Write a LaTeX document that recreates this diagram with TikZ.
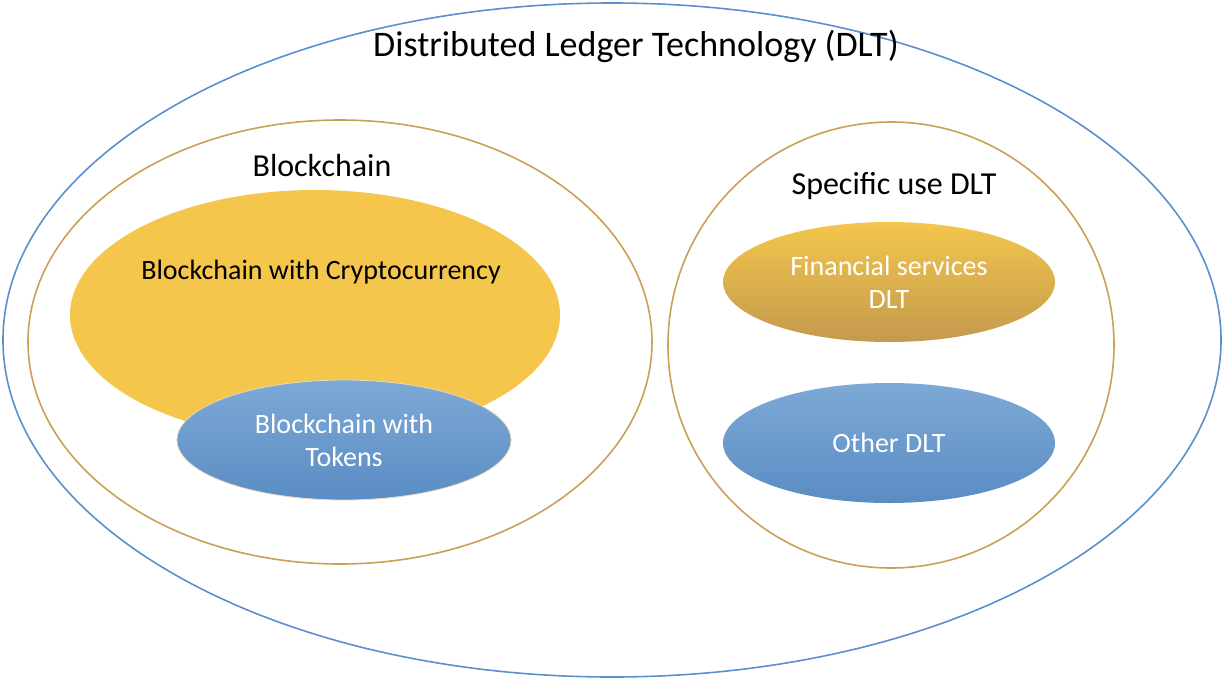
\documentclass[tikz,border=0pt]{standalone}
\usepackage{fontspec}
\setmainfont{Carlito}
\usetikzlibrary{shapes.geometric,positioning}
\definecolor{ringblue}{HTML}{5B8FCF}
\definecolor{ringgold}{HTML}{C9A055}
\definecolor{cryptoyellow}{HTML}{F4C64C}
\definecolor{goldlow}{HTML}{C39A4E}
\definecolor{bluehigh}{HTML}{7DA9D6}
\definecolor{bluelow}{HTML}{5A8CC3}
\tikzset{
  set/.style={draw, ellipse, inner sep=0pt, line width=1.6pt},
  blob/.style={ellipse, inner sep=0pt, align=center, text=white},
  label/.style={font=\fontsize{28}{33}\selectfont},
  setname/.style={font=\fontsize{32}{38}\selectfont},
}
\begin{document}
\begin{tikzpicture}[x=1pt, y=-1pt]
\useasboundingbox (0,0) rectangle (1224,680);
% outer and inner sets
\node[set, draw=ringblue, minimum width=1218pt, minimum height=674pt] (dlt) at (612,340) {};
\node[set, draw=ringgold, minimum width=624pt, minimum height=444pt] (chain) at (340,342) {};
\node[set, draw=ringgold, minimum width=446pt, minimum height=446pt] (special) at (891,345) {};
% set names
\node[font=\fontsize{36}{43}\selectfont] (dltname) at (636,46) {Distributed Ledger Technology (DLT)};
\node[setname] (chainname) at (322,166) {Blockchain};
\node[setname] (specialname) at (894,186) {Specific use DLT};
% blockchain subsets
\node[blob, fill=cryptoyellow, minimum width=490pt, minimum height=250pt] (crypto) at (315,315) {};
\node[label] (cryptoname) at (321,272) {Blockchain with Cryptocurrency};
\node[blob, label, top color=bluehigh, bottom color=bluelow, draw=ringgold!40, line width=0.8pt,
  minimum width=334pt, minimum height=120pt] (tokens) at (344,440) {Blockchain with\\Tokens};
% specific use subsets
\node[blob, label, top color=cryptoyellow, middle color=cryptoyellow!85!goldlow, bottom color=goldlow,
  minimum width=332pt, minimum height=120pt] (finance) at (889,282) {Financial services\\DLT};
\node[blob, label, top color=bluehigh, bottom color=bluelow,
  minimum width=332pt, minimum height=120pt] (other) at (889,443) {Other DLT};
\end{tikzpicture}
\end{document}
